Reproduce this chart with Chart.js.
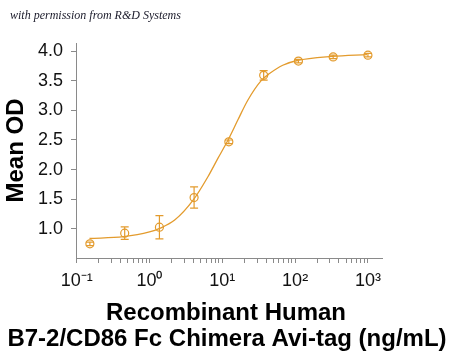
<!DOCTYPE html>
<html>
<head>
<meta charset="utf-8">
<script src="https://cdn.jsdelivr.net/npm/chart.js@4"></script>
<style>
  html, body { margin: 0; padding: 0; background: #fff; }
  #wrap { position: relative; width: 450px; height: 354px; }
  #note {
    position: absolute; left: 10px; top: 8px;
    font: italic 12px "Liberation Serif", serif; color: #1a1a2a;
  }
</style>
</head>
<body>
<div id="wrap">
  <canvas id="myChart" width="450" height="354"></canvas>
  <div id="note">with permission from R&amp;D Systems</div>
</div>
<script>
// measured points (ng/mL vs mean OD) with +/- error
const conc = [0.152, 0.457, 1.37, 4.1, 12.3, 37, 111, 333, 1000];
const meanOD = [0.75, 0.93, 1.03, 1.53, 2.47, 3.59, 3.83, 3.90, 3.93];
const errOD = [0.03, 0.105, 0.195, 0.18, 0.03, 0.08, 0.03, 0.03, 0.03];

// fitted curve
const curveX = [0.15, 0.44, 1.0, 1.38, 2.22, 4.0, 6.35, 8.7, 12, 16.4, 22.4, 34.2, 44.5, 67.6, 107, 324, 970];
const curveY = [0.84, 0.87, 0.95, 1.01, 1.15, 1.49, 1.88, 2.19, 2.50, 2.84, 3.17, 3.50, 3.62, 3.76, 3.84, 3.91, 3.94];

const xTickLabels = {0.1: '10⁻¹', 1: '10⁰', 10: '10¹', 100: '10²', 1000: '10³'};
const yTickValues = [1.0, 1.5, 2.0, 2.5, 3.0, 3.5, 4.0];
const xTitle = ['Recombinant Human', 'B7-2/CD86 Fc Chimera Avi-tag (ng/mL)'];

const orange = '#e39b2d';
const axisGray = '#8a8a8a';

const errorBars = {
	id: 'errorBars',
	afterDatasetsDraw(chart) {
		const ctx = chart.ctx;
		const xs = chart.scales.x, ys = chart.scales.y;
		ctx.save();
		ctx.strokeStyle = orange;
		ctx.lineWidth = 1.2;
		for (let i = 0; i < conc.length; i++) {
			const px = xs.getPixelForValue(conc[i]);
			const top = ys.getPixelForValue(meanOD[i] + errOD[i]);
			const bot = ys.getPixelForValue(meanOD[i] - errOD[i]);
			ctx.beginPath();
			ctx.moveTo(px, top); ctx.lineTo(px, bot);
			ctx.moveTo(px - 4, top); ctx.lineTo(px + 4, top);
			ctx.moveTo(px - 4, bot); ctx.lineTo(px + 4, bot);
			ctx.stroke();
		}
		ctx.restore();
	}
};

// two-line x title, wider than the plot area so drawn here
const xTitlePlugin = {
	id: 'xTitle',
	afterDraw(chart) {
		const ctx = chart.ctx;
		ctx.save();
		ctx.fillStyle = '#000';
		ctx.font = 'bold 24px "Liberation Sans", Arial, sans-serif';
		ctx.textAlign = 'center';
		ctx.textBaseline = 'alphabetic';
		ctx.fillText(xTitle[0], 226, 320);
		ctx.fillText(xTitle[1], 227, 346);
		ctx.restore();
	}
};

const ctx = document.getElementById('myChart').getContext('2d');
const myChart = new Chart(ctx, {
	type: 'line',
	data: {
		datasets: [
			{
				data: curveX.map((x, i) => ({x: x, y: curveY[i]})),
				borderColor: orange,
				borderWidth: 1.3,
				pointRadius: 0,
				cubicInterpolationMode: 'monotone',
				fill: false
			},
			{
				data: conc.map((x, i) => ({x: x, y: meanOD[i]})),
				showLine: false,
				pointStyle: 'circle',
				pointRadius: 4,
				pointBorderWidth: 1.2,
				pointBorderColor: orange,
				pointBackgroundColor: 'rgba(0,0,0,0)'
			}
		]
	},
	options: {
		responsive: false,
		animation: false,
		events: [],
		layout: { padding: { left: 0, right: 68, top: 43, bottom: 0 } },
		plugins: { legend: { display: false }, tooltip: { enabled: false } },
		scales: {
			x: {
				type: 'logarithmic',
				min: 0.098,
				max: 1560,
				afterFit: s => { s.height = 96; },
				afterBuildTicks: s => {
					const t = [];
					for (let e = -1; e <= 3; e++) {
						for (let m = 1; m <= 9; m++) {
							const v = Number((m * Math.pow(10, e)).toPrecision(3));
							if (v <= 1000) t.push({value: v});
						}
					}
					s.ticks = t;
				},
				grid: { display: true, drawOnChartArea: false, drawTicks: true, tickLength: 5, color: axisGray },
				border: { display: true, color: axisGray, width: 1 },
				ticks: {
					autoSkip: false,
					maxRotation: 0,
					padding: 7,
					color: '#111',
					font: { family: 'Liberation Sans, Arial', size: 18 },
					callback: v => xTickLabels[v] || ''
				}
			},
			y: {
				min: 0.511,
				max: 4.135,
				afterFit: s => { s.width = 76; },
				afterBuildTicks: s => { s.ticks = yTickValues.map(v => ({value: v})); },
				grid: { display: true, drawOnChartArea: false, drawTicks: true, tickLength: 5, color: axisGray },
				border: { display: true, color: axisGray, width: 1 },
				ticks: {
					padding: 8,
					color: '#111',
					font: { family: 'Liberation Sans, Arial', size: 18 },
					callback: v => v.toFixed(1)
				},
				title: {
					display: true,
					text: 'Mean OD',
					color: '#000',
					font: { family: 'Liberation Sans, Arial', size: 24, weight: 'bold', lineHeight: 1.2 },
					padding: { top: 2, bottom: 0 }
				}
			}
		}
	},
	plugins: [errorBars, xTitlePlugin]
});
</script>
</body>
</html>
